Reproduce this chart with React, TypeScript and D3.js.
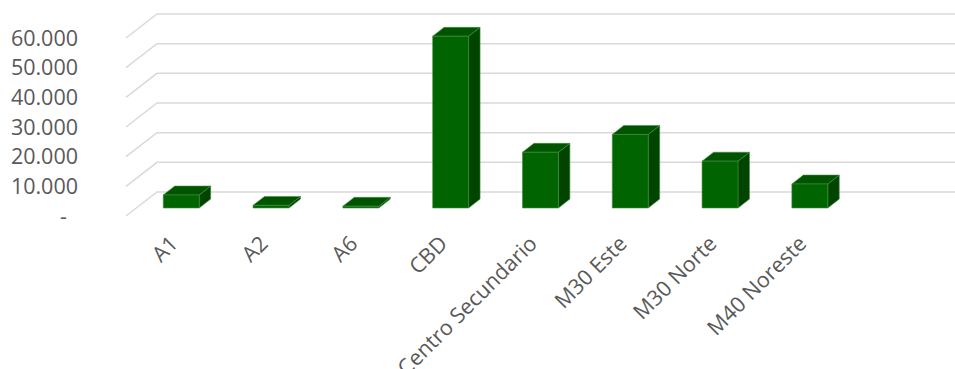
import React from "react";
import * as d3 from "d3";

const categories = ["A1", "A2", "A6", "CBD", "Centro Secundario", "M30 Este", "M30 Norte", "M40 Noreste"];
const values = [4400, 900, 600, 57900, 18800, 24800, 15800, 8100];
const tickValues = [0, 10000, 20000, 30000, 40000, 50000, 60000];
const tickLabels = ["-", "10.000", "20.000", "30.000", "40.000", "50.000", "60.000"];

const W = 955;
const H = 369;
const FONT = "'Open Sans', sans-serif";

export default function App() {
  // oblique 3D floor geometry
  const floorX0 = 126;
  const depthDX = 31;
  const depthDY = -24;
  const step = 89.8;
  const x = d3
    .scaleBand<string>()
    .domain(categories)
    .range([floorX0, floorX0 + step * categories.length])
    .paddingInner(0.6)
    .paddingOuter(0.3);
  const y = d3.scaleLinear().domain([0, 60000]).range([216, 38]);

  const barFront = 1 / 3; // depth fraction where bar front face sits
  const barDepth = 0.37;
  const fdx = depthDX * barFront;
  const fdy = depthDY * barFront;
  const bdx = depthDX * barDepth;
  const bdy = depthDY * barDepth;

  const front = "#006400";
  const top = "#005400";
  const side = "#004400";
  const edge = "#3f8f3f";

  return (
    <svg width={W} height={H} style={{ position: "absolute", left: 0, top: 0, background: "#fff" }}>
      {/* gridlines */}
      <g stroke="#d9d9d9" strokeWidth={1.5} fill="none">
        {tickValues.map((t) => {
          const yf = y(t);
          const yb = yf + depthDY;
          return (
            <path key={t} d={`M${floorX0},${yf}L${floorX0 + depthDX},${yb}L${W},${yb}`} />
          );
        })}
      </g>
      {/* y tick labels */}
      <g fontFamily={FONT} fontSize={21.5} fill="#595959">
        {tickValues.map((t, i) => (
          <text
            key={t}
            x={t === 0 ? 67 : 78}
            y={y(t) + 2}
            textAnchor="end"
            dominantBaseline="middle"
          >
            {tickLabels[i]}
          </text>
        ))}
      </g>
      {/* bars */}
      <g strokeWidth={0.6} stroke={edge} strokeLinejoin="round">
        {categories.map((c, i) => {
          const x0 = (x(c) as number) + fdx;
          const w = x.bandwidth();
          const y0 = y(0) + fdy;
          const y1 = y(values[i]) + fdy;
          const x1 = x0 + w;
          return (
            <g key={c}>
              <path
                fill={side}
                d={`M${x1},${y0}L${x1 + bdx},${y0 + bdy}L${x1 + bdx},${y1 + bdy}L${x1},${y1}Z`}
              />
              <path
                fill={top}
                d={`M${x0},${y1}L${x0 + bdx},${y1 + bdy}L${x1 + bdx},${y1 + bdy}L${x1},${y1}Z`}
              />
              <rect fill={front} x={x0} y={y1} width={w} height={y0 - y1} />
            </g>
          );
        })}
      </g>
      {/* category labels */}
      <g fontFamily={FONT} fontSize={21.5} fill="#595959">
        {categories.map((c) => {
          const cx = (x(c) as number) + fdx + x.bandwidth() / 2 - 6;
          const cy = 241;
          return (
            <text
              key={c}
              x={0}
              y={0}
              textAnchor="end"
              dominantBaseline="middle"
              transform={`translate(${cx},${cy}) rotate(-45)`}
            >
              {c}
            </text>
          );
        })}
      </g>
    </svg>
  );
}
